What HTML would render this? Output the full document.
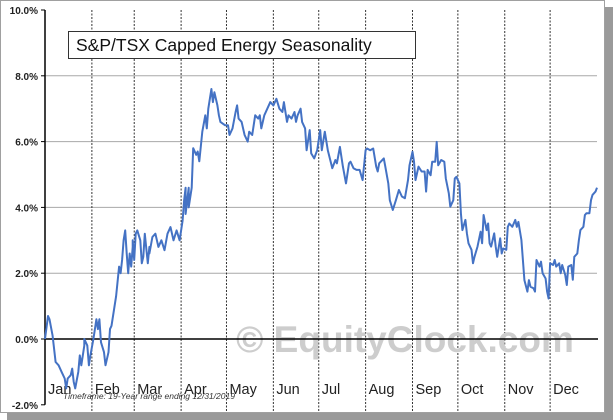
<!DOCTYPE html>
<html><head><meta charset="utf-8"><style>
body{margin:0;background:#fff;font-family:"Liberation Sans",sans-serif}
svg{display:block}
</style></head><body>
<svg width="613" height="420" viewBox="0 0 613 420">
<rect x="7" y="7" width="606" height="413" fill="#9a9a9a"/>
<rect x="0.5" y="0.5" width="604" height="412" fill="#fff" stroke="#a0a0a0"/>
<g id="grid"></g>
<text x="405" y="352" font-size="37" font-weight="bold" fill="#cdcdcd" text-anchor="middle">© EquityClock.com</text>
<g id="axes"></g>
<path id="line" fill="none" stroke="#4472c4" stroke-width="2" stroke-linejoin="round"/>
<rect x="68.5" y="31.5" width="347" height="27" fill="#fff" stroke="#333"/>
<text x="76" y="51" font-size="17.5" fill="#111">S&amp;P/TSX Capped Energy Seasonality</text>
<text x="63" y="399" font-size="8.5" font-style="italic" fill="#333">Timeframe:  19-Year range ending 12/31/2019</text>
</svg>
<script>
const yTicks=[10,8,6,4,2,0,-2];
const months=["Jan","Feb","Mar","Apr","May","Jun","Jul","Aug","Sep","Oct","Nov","Dec"];
const monthStarts=[0,31,59,90,120,151,181,212,243,273,304,334,365];
const series=[[0,0],[2,0.7],[3,0.6],[5,0.1],[7,-0.7],[9,-0.8],[11,-1.0],[13,-1.2],[14,-1.5],[15,-1.2],[17,-1.1],[18,-0.9],[19,-1.3],[20,-1.5],[22,-1.0],[23,-0.5],[24,-0.8],[26,-0.2],[26,0.0],[28,-0.2],[29,-0.8],[30,-0.5],[32,0.0],[34,0.6],[35,0.3],[36,0.6],[37,-0.1],[39,-0.4],[40,-0.8],[42,-0.4],[43,0.3],[44,0.4],[47,1.3],[49,2.2],[50,2.0],[51,2.4],[52,3.0],[53,3.3],[54,2.6],[55,2.0],[56,2.6],[57,2.2],[58,2.8],[58,3.0],[59,2.4],[60,3.2],[61,3.3],[63,3.0],[64,2.3],[65,2.5],[66,3.2],[68,2.3],[69,2.8],[69,2.6],[71,3.1],[73,3.2],[75,2.8],[77,3.0],[79,2.7],[81,3.2],[83,3.4],[85,3.0],[87,3.3],[89,3.0],[91,3.6],[92,4.2],[93,4.6],[93,3.8],[95,4.6],[95,4.0],[97,4.6],[98,5.8],[100,5.6],[101,5.7],[102,5.4],[104,6.3],[106,6.8],[107,6.4],[108,7.0],[110,7.6],[111,7.2],[112,7.5],[114,7.1],[115,6.8],[116,6.6],[119,6.5],[121,6.5],[122,6.2],[124,6.4],[126,6.9],[127,7.1],[128,6.7],[130,6.6],[132,6.2],[134,6.0],[135,6.3],[137,6.2],[139,6.8],[141,6.7],[142,6.8],[143,6.4],[145,6.8],[147,7.0],[149,7.2],[151,7.1],[152,7.2],[153,7.3],[155,7.0],[157,6.9],[158,7.2],[160,6.6],[161,6.8],[163,6.7],[165,6.9],[166,6.6],[167,6.8],[169,7.0],[170,6.6],[172,6.4],[173,5.74],[175,6.35],[176,5.64],[178,5.49],[180,5.74],[182,6.35],[183,5.74],[185,6.3],[187,5.74],[190,5.19],[192,5.44],[193,5.34],[195,5.84],[197,5.24],[199,4.73],[201,5.34],[202,5.39],[204,5.19],[206,5.14],[208,5.14],[210,4.83],[212,5.74],[213,5.79],[215,5.74],[217,5.79],[219,5.24],[220,5.09],[221,5.34],[224,5.49],[225,5.24],[227,4.73],[228,4.22],[230,3.92],[232,4.22],[234,4.53],[236,4.33],[238,4.28],[240,4.83],[241,5.28],[243,5.69],[244,5.39],[245,4.83],[247,5.24],[249,5.09],[251,5.09],[252,4.48],[253,5.14],[255,4.98],[256,5.39],[258,5.39],[259,5.99],[260,5.28],[262,5.44],[264,5.39],[265,4.88],[267,4.43],[268,4.02],[270,4.22],[271,4.88],[272,4.93],[274,4.73],[275,3.82],[276,3.31],[278,3.62],[279,3.21],[280,2.91],[282,2.71],[283,2.30],[284,2.50],[286,2.81],[288,3.26],[289,2.91],[290,3.77],[292,3.31],[293,3.51],[294,2.91],[295,2.81],[297,3.21],[298,2.81],[299,2.50],[301,3.06],[302,2.60],[303,2.75],[305,2.71],[306,3.41],[307,3.51],[309,3.41],[311,3.62],[312,3.41],[313,3.56],[315,3.01],[316,2.40],[317,1.79],[319,1.44],[320,1.79],[321,1.59],[323,1.54],[324,1.44],[325,2.40],[327,2.20],[328,2.35],[329,2.00],[331,1.84],[332,1.44],[333,1.23],[334,2.30],[336,2.25],[337,2.40],[338,2.20],[340,2.30],[341,2.00],[342,2.25],[344,1.95],[345,1.64],[346,2.20],[348,2.25],[349,1.80],[350,2.50],[352,2.60],[353,3.01],[354,3.31],[356,3.41],[357,3.77],[358,3.82],[360,3.82],[361,4.22],[362,4.38],[364,4.48],[365,4.60]];
const NS="http://www.w3.org/2000/svg";
const X0=45,X1=597,Y10=10,Y0=339;
const xs=d=>X0+(X1-X0)*d/365;
const ys=v=>Y0-(Y0-Y10)*v/10;
function mk(tag,attrs,parent,text){const e=document.createElementNS(NS,tag);for(const k in attrs)e.setAttribute(k,attrs[k]);if(text!=null)e.textContent=text;parent.appendChild(e);return e;}
const grid=document.getElementById('grid'),axes=document.getElementById('axes');
yTicks.forEach(t=>{
  if(t!==0&&t!==-2&&t!==10){const l=mk('line',{x1:X0,x2:X1,y1:ys(t),y2:ys(t),stroke:'#a8a8a8','stroke-width':1},grid);
  
  }
  const tx=mk('text',{x:38,y:ys(t)+4,'font-size':10,'font-weight':'bold','text-anchor':'end',fill:'#222'},axes,t.toFixed(1)+'%');
  
  
  const tk=mk('line',{x1:X0-4,x2:X0,y1:ys(t),y2:ys(t),stroke:'#000'},axes);
  
  
});
months.forEach((m,i)=>{
  if(i>0){const l=mk('line',{x1:xs(monthStarts[i]),x2:xs(monthStarts[i]),y1:Y10,y2:412,stroke:'#333','stroke-dasharray':'2,1.5','stroke-width':1},grid);
  
  }
  const tx=mk('text',{x:xs(monthStarts[i])+3,y:394,'font-size':14.5,'text-anchor':'start',fill:'#222'},axes,m);
  
  
});
const ya=mk('line',{x1:X0,x2:X0,y1:Y10,y2:ys(-2),stroke:'#000','stroke-width':1.5},axes);


const za=mk('line',{x1:X0,x2:X1+1,y1:ys(0),y2:ys(0),stroke:'#000','stroke-width':1.5},axes);


document.getElementById('line').setAttribute('d',series.map((p,i)=>(i?'L':'M')+xs(p[0]).toFixed(1)+','+ys(p[1]).toFixed(1)).join(''));
</script>
</body></html>
